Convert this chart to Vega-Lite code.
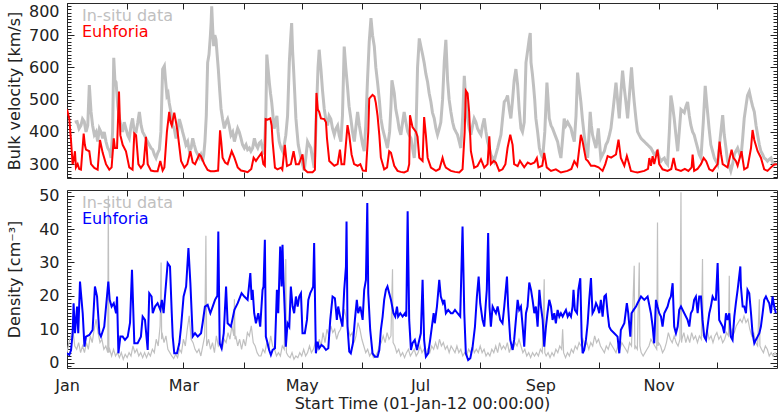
{
"$schema": "https://vega.github.io/schema/vega-lite/v6.json",
"background": "white",
"padding": {"left": 5, "top": 2, "right": 0, "bottom": 0},
"config": {
  "view": {"stroke": "#2a2a2a", "strokeWidth": 1},
  "axis": {"grid": false, "domain": false, "ticks": true, "labelFont": "DejaVu Sans", "labelFontSize": 16, "labelColor": "#222", "titleFont": "DejaVu Sans", "titleFontSize": 16, "titleFontWeight": "normal", "titleColor": "#222", "tickColor": "#222", "tickWidth": 1, "labelOverlap": false, "minExtent": 0},
  "concat": {"spacing": 8}
},
"datasets": {
"velModel": [{"t":0,"v":470},{"t":1.2,"v":440},{"t":2.1,"v":370},{"t":2.9,"v":300},{"t":3.5,"v":315},{"t":4.1,"v":340},{"t":4.6,"v":290},{"t":5.5,"v":300},{"t":6.3,"v":285},{"t":7.2,"v":283},{"t":8.6,"v":395},{"t":9.2,"v":360},{"t":9.8,"v":345},{"t":11.5,"v":340},{"t":12.4,"v":300},{"t":14.1,"v":288},{"t":15.8,"v":283},{"t":17,"v":375},{"t":18.4,"v":335},{"t":20.1,"v":300},{"t":21.8,"v":283},{"t":23,"v":290},{"t":24.1,"v":380},{"t":24.7,"v":350},{"t":25.8,"v":350},{"t":26.8,"v":525},{"t":27.5,"v":390},{"t":28.7,"v":360},{"t":30.4,"v":340},{"t":32.1,"v":290},{"t":33.8,"v":283},{"t":34.7,"v":395},{"t":35.6,"v":390},{"t":36.8,"v":300},{"t":38.1,"v":288},{"t":39.5,"v":300},{"t":40.7,"v":385},{"t":41.6,"v":300},{"t":43.3,"v":280},{"t":45,"v":278},{"t":46.7,"v":278},{"t":48.1,"v":310},{"t":49.3,"v":280},{"t":50.2,"v":290},{"t":51.5,"v":400},{"t":52.7,"v":462},{"t":53.4,"v":430},{"t":54,"v":420},{"t":55.3,"v":460},{"t":56.2,"v":430},{"t":57,"v":400},{"t":58.8,"v":310},{"t":60.5,"v":289},{"t":62,"v":300},{"t":63.6,"v":340},{"t":64.8,"v":305},{"t":66,"v":300},{"t":68.2,"v":330},{"t":69,"v":325},{"t":70.8,"v":300},{"t":72.5,"v":282},{"t":74,"v":278},{"t":75.9,"v":278},{"t":77.9,"v":280},{"t":78.9,"v":405},{"t":79.5,"v":370},{"t":80.2,"v":320},{"t":81.5,"v":305},{"t":82.8,"v":300},{"t":84.9,"v":340},{"t":86.3,"v":320},{"t":88,"v":290},{"t":89.7,"v":280},{"t":91.5,"v":278},{"t":93.1,"v":275},{"t":95,"v":285},{"t":96.2,"v":320},{"t":97.4,"v":310},{"t":98.5,"v":320},{"t":100.3,"v":335},{"t":101.2,"v":300},{"t":102,"v":295},{"t":102.4,"v":440},{"t":103.4,"v":438},{"t":104.8,"v":442},{"t":105.5,"v":420},{"t":106,"v":370},{"t":107.2,"v":289},{"t":108.5,"v":284},{"t":110.3,"v":289},{"t":111,"v":283},{"t":112.3,"v":360},{"t":113.4,"v":294},{"t":115.4,"v":300},{"t":116.8,"v":340},{"t":118,"v":300},{"t":119.5,"v":300},{"t":121.4,"v":330},{"t":122.3,"v":284},{"t":124,"v":275},{"t":126.6,"v":275},{"t":127.8,"v":282},{"t":128.6,"v":521},{"t":129.3,"v":470},{"t":130,"v":462},{"t":130.9,"v":442},{"t":132.6,"v":440},{"t":133.5,"v":430},{"t":134,"v":381},{"t":135.2,"v":310},{"t":137.8,"v":295},{"t":139.5,"v":300},{"t":140.7,"v":345},{"t":141.5,"v":300},{"t":142.9,"v":300},{"t":144.6,"v":421},{"t":145.5,"v":390},{"t":146.7,"v":330},{"t":148,"v":300},{"t":149.8,"v":295},{"t":151.2,"v":300},{"t":152.5,"v":280},{"t":154.1,"v":279},{"t":155.3,"v":400},{"t":155.8,"v":503},{"t":157.5,"v":515},{"t":158.5,"v":510},{"t":159.2,"v":490},{"t":160.1,"v":450},{"t":161,"v":390},{"t":161.8,"v":320},{"t":163.5,"v":284},{"t":165,"v":290},{"t":166.1,"v":340},{"t":167,"v":335},{"t":168.7,"v":295},{"t":170.4,"v":279},{"t":172,"v":276},{"t":173.8,"v":274},{"t":175.6,"v":279},{"t":176.4,"v":300},{"t":176.8,"v":452},{"t":178.1,"v":415},{"t":179.9,"v":400},{"t":180.7,"v":385},{"t":181.6,"v":320},{"t":183.3,"v":310},{"t":184.1,"v":446},{"t":185,"v":390},{"t":185.9,"v":320},{"t":187.6,"v":289},{"t":190.2,"v":279},{"t":192,"v":285},{"t":193.6,"v":320},{"t":194.5,"v":300},{"t":195.3,"v":289},{"t":197.9,"v":279},{"t":200,"v":276},{"t":202.2,"v":274},{"t":203.9,"v":284},{"t":205,"v":400},{"t":205.6,"v":528},{"t":206.5,"v":520},{"t":207.3,"v":462},{"t":208.2,"v":340},{"t":209.9,"v":289},{"t":211.6,"v":294},{"t":213.4,"v":315},{"t":215.1,"v":289},{"t":216.8,"v":300},{"t":217.7,"v":386},{"t":218.5,"v":300},{"t":220,"v":310},{"t":221.1,"v":305},{"t":222.8,"v":279},{"t":224.5,"v":284},{"t":226,"v":300},{"t":227.1,"v":350},{"t":228.5,"v":391},{"t":229.7,"v":360},{"t":230.5,"v":300},{"t":232.3,"v":294},{"t":233.5,"v":310},{"t":235.7,"v":290},{"t":237.5,"v":305},{"t":239.1,"v":300},{"t":241,"v":305},{"t":242.2,"v":319},{"t":243,"v":290},{"t":245,"v":295},{"t":246,"v":335},{"t":247.3,"v":290},{"t":249.5,"v":279},{"t":252,"v":284},{"t":254.6,"v":274},{"t":258,"v":279},{"t":260,"v":285},{"t":261.5,"v":309},{"t":263,"v":295},{"t":264.9,"v":391},{"t":265.8,"v":370},{"t":267.5,"v":315},{"t":268.5,"v":310},{"t":270.1,"v":295},{"t":272,"v":295},{"t":274,"v":290},{"t":276.1,"v":279},{"t":277.5,"v":300},{"t":278.7,"v":325},{"t":280.5,"v":320},{"t":283,"v":330},{"t":284.3,"v":376},{"t":285.5,"v":319},{"t":287.3,"v":295},{"t":288.6,"v":325},{"t":289.8,"v":300},{"t":290.7,"v":279},{"t":292.5,"v":276},{"t":294.1,"v":274},{"t":297.6,"v":279},{"t":299.5,"v":285},{"t":300.2,"v":319},{"t":301,"v":295},{"t":301.9,"v":325},{"t":302.7,"v":300},{"t":304.4,"v":345},{"t":305.3,"v":300},{"t":307,"v":284},{"t":309.6,"v":279},{"t":311.5,"v":285},{"t":312.7,"v":319},{"t":313.9,"v":284},{"t":316.5,"v":279},{"t":318.5,"v":285},{"t":320.3,"v":279},{"t":322,"v":290},{"t":322.5,"v":330},{"t":323.3,"v":279},{"t":325,"v":285},{"t":326.8,"v":300},{"t":328.2,"v":319},{"t":329.5,"v":309},{"t":331.1,"v":284},{"t":332.8,"v":279},{"t":335.4,"v":300},{"t":336.4,"v":370},{"t":337.2,"v":330},{"t":338,"v":300},{"t":340.5,"v":290},{"t":342.6,"v":345},{"t":343.5,"v":320},{"t":344.8,"v":310},{"t":345.7,"v":295},{"t":347.7,"v":340},{"t":349.1,"v":284},{"t":350.8,"v":290},{"t":352.6,"v":350},{"t":353.4,"v":406},{"t":354.3,"v":375},{"t":356,"v":340},{"t":357.7,"v":320},{"t":359.4,"v":284},{"t":361.1,"v":279},{"t":362.9,"v":290},{"t":364.6,"v":299},{"t":366,"v":300}],
"velObs": [{"t":4,"v":430},{"t":5.2,"v":432},{"t":6.2,"v":410},{"t":7.2,"v":420},{"t":8,"v":440},{"t":8.9,"v":432},{"t":9.8,"v":400},{"t":10.7,"v":420},{"t":11.5,"v":545},{"t":12.4,"v":462},{"t":13.2,"v":420},{"t":14.1,"v":391},{"t":15,"v":400},{"t":15.8,"v":370},{"t":16.7,"v":410},{"t":17.5,"v":400},{"t":18.4,"v":380},{"t":19.2,"v":400},{"t":20.1,"v":370},{"t":21,"v":350},{"t":22,"v":340},{"t":22.7,"v":319},{"t":23.5,"v":400},{"t":24.1,"v":630},{"t":24.7,"v":560},{"t":25.3,"v":554},{"t":26.2,"v":480},{"t":27,"v":442},{"t":27.8,"v":420},{"t":28.7,"v":400},{"t":29.5,"v":430},{"t":30.4,"v":410},{"t":31.3,"v":390},{"t":32.1,"v":380},{"t":33,"v":420},{"t":33.8,"v":442},{"t":34.7,"v":400},{"t":35.6,"v":400},{"t":36.5,"v":430},{"t":37.3,"v":462},{"t":38.2,"v":420},{"t":39,"v":400},{"t":39.9,"v":390},{"t":40.7,"v":380},{"t":41.5,"v":370},{"t":42.4,"v":360},{"t":43.3,"v":350},{"t":44.2,"v":345},{"t":45,"v":330},{"t":45.9,"v":319},{"t":46.8,"v":335},{"t":47.6,"v":345},{"t":48.4,"v":400},{"t":49.3,"v":595},{"t":50.2,"v":605},{"t":50.8,"v":560},{"t":51.5,"v":513},{"t":52.1,"v":520},{"t":52.7,"v":490},{"t":53.6,"v":460},{"t":54.5,"v":420},{"t":55.3,"v":410},{"t":56.2,"v":380},{"t":57,"v":400},{"t":57.9,"v":440},{"t":58.8,"v":420},{"t":59.6,"v":400},{"t":60.5,"v":380},{"t":61.3,"v":360},{"t":62.2,"v":370},{"t":63.1,"v":340},{"t":64,"v":350},{"t":64.8,"v":380},{"t":65.6,"v":360},{"t":66.5,"v":340},{"t":67.4,"v":330},{"t":68.2,"v":320},{"t":69,"v":330},{"t":69.9,"v":309},{"t":70.5,"v":330},{"t":71.1,"v":370},{"t":71.8,"v":450},{"t":72.5,"v":615},{"t":73.2,"v":640},{"t":73.9,"v":697},{"t":74.3,"v":740},{"t":74.6,"v":790},{"t":75.1,"v":720},{"t":75.6,"v":666},{"t":76.2,"v":700},{"t":76.8,"v":687},{"t":77.4,"v":640},{"t":78,"v":595},{"t":78.7,"v":530},{"t":79.4,"v":472},{"t":80.2,"v":440},{"t":81.1,"v":411},{"t":82,"v":430},{"t":82.8,"v":440},{"t":83.6,"v":420},{"t":84.5,"v":390},{"t":85.4,"v":400},{"t":86.3,"v":370},{"t":87.1,"v":390},{"t":88,"v":411},{"t":88.8,"v":400},{"t":89.7,"v":380},{"t":90.5,"v":360},{"t":91.4,"v":350},{"t":92.3,"v":360},{"t":93.1,"v":345},{"t":94,"v":350},{"t":94.8,"v":340},{"t":95.7,"v":350},{"t":96.6,"v":380},{"t":97.4,"v":360},{"t":98.3,"v":350},{"t":99.1,"v":365},{"t":100,"v":370},{"t":100.8,"v":350},{"t":101.7,"v":330},{"t":102.5,"v":450},{"t":103,"v":640},{"t":103.6,"v":600},{"t":104.3,"v":553},{"t":104.9,"v":520},{"t":105.5,"v":493},{"t":106.2,"v":450},{"t":106.8,"v":410},{"t":107.5,"v":430},{"t":108.2,"v":450},{"t":108.8,"v":400},{"t":109.4,"v":370},{"t":110.3,"v":350},{"t":111.1,"v":340},{"t":112,"v":360},{"t":112.8,"v":390},{"t":113.7,"v":450},{"t":114.6,"v":615},{"t":115.2,"v":680},{"t":115.8,"v":738},{"t":116.3,"v":650},{"t":116.8,"v":595},{"t":117.4,"v":520},{"t":118,"v":442},{"t":118.6,"v":400},{"t":119.2,"v":360},{"t":119.9,"v":340},{"t":120.6,"v":319},{"t":121.4,"v":300},{"t":122.3,"v":280},{"t":123.1,"v":320},{"t":124,"v":370},{"t":124.8,"v":360},{"t":125.7,"v":350},{"t":126.5,"v":320},{"t":127.4,"v":289},{"t":128.1,"v":380},{"t":128.8,"v":500},{"t":129.4,"v":600},{"t":130,"v":655},{"t":130.5,"v":620},{"t":130.9,"v":595},{"t":131.7,"v":530},{"t":132.6,"v":472},{"t":133.4,"v":440},{"t":134.3,"v":420},{"t":135.1,"v":450},{"t":136,"v":440},{"t":136.9,"v":410},{"t":137.8,"v":391},{"t":138.6,"v":410},{"t":139.5,"v":420},{"t":140.3,"v":390},{"t":141.2,"v":370},{"t":142,"v":450},{"t":142.9,"v":665},{"t":143.7,"v":600},{"t":144.6,"v":540},{"t":145.4,"v":480},{"t":146.3,"v":442},{"t":147.2,"v":400},{"t":148.1,"v":370},{"t":149,"v":420},{"t":149.8,"v":462},{"t":150.7,"v":420},{"t":151.5,"v":391},{"t":152.4,"v":360},{"t":153.2,"v":340},{"t":154,"v":420},{"t":154.9,"v":560},{"t":155.8,"v":680},{"t":156.7,"v":753},{"t":157.5,"v":700},{"t":158.4,"v":666},{"t":159.2,"v":600},{"t":160.1,"v":553},{"t":161,"v":500},{"t":161.8,"v":442},{"t":162.7,"v":410},{"t":163.5,"v":391},{"t":164.4,"v":370},{"t":165.2,"v":350},{"t":166.3,"v":400},{"t":167,"v":480},{"t":167.5,"v":560},{"t":168.1,"v":540},{"t":168.7,"v":520},{"t":169.5,"v":470},{"t":170.4,"v":442},{"t":171.2,"v":410},{"t":172.1,"v":391},{"t":173,"v":430},{"t":173.8,"v":462},{"t":174.7,"v":430},{"t":175.6,"v":401},{"t":176.4,"v":390},{"t":177.3,"v":380},{"t":178.1,"v":350},{"t":179,"v":319},{"t":179.9,"v":400},{"t":180.7,"v":600},{"t":181.6,"v":690},{"t":182.4,"v":666},{"t":183.3,"v":640},{"t":184.1,"v":615},{"t":185,"v":580},{"t":185.9,"v":554},{"t":186.7,"v":520},{"t":187.6,"v":493},{"t":188.4,"v":460},{"t":189.3,"v":442},{"t":190.2,"v":410},{"t":191,"v":391},{"t":191.9,"v":410},{"t":192.7,"v":430},{"t":193.6,"v":500},{"t":194.5,"v":620},{"t":195.3,"v":686},{"t":196.2,"v":560},{"t":197,"v":500},{"t":197.9,"v":462},{"t":198.8,"v":430},{"t":199.6,"v":411},{"t":200.5,"v":400},{"t":201.3,"v":391},{"t":202.2,"v":370},{"t":203,"v":350},{"t":204,"v":450},{"t":204.8,"v":574},{"t":205.6,"v":500},{"t":206.5,"v":442},{"t":207.3,"v":410},{"t":208.2,"v":391},{"t":209.1,"v":420},{"t":209.9,"v":442},{"t":210.8,"v":430},{"t":211.6,"v":411},{"t":212.5,"v":400},{"t":213.4,"v":391},{"t":214.2,"v":420},{"t":215.1,"v":442},{"t":216,"v":400},{"t":216.8,"v":370},{"t":217.7,"v":350},{"t":218.5,"v":330},{"t":219.4,"v":320},{"t":220.2,"v":309},{"t":221.1,"v":330},{"t":222,"v":350},{"t":222.8,"v":370},{"t":223.7,"v":391},{"t":224.5,"v":440},{"t":225.4,"v":493},{"t":226.3,"v":500},{"t":227.1,"v":513},{"t":228,"v":470},{"t":228.8,"v":442},{"t":229.7,"v":500},{"t":230.5,"v":560},{"t":231.4,"v":595},{"t":232.3,"v":545},{"t":233.1,"v":470},{"t":234,"v":411},{"t":234.8,"v":400},{"t":235.7,"v":430},{"t":236.6,"v":615},{"t":237.4,"v":650},{"t":238.3,"v":690},{"t":238.8,"v":707},{"t":239.2,"v":615},{"t":239.9,"v":580},{"t":240.5,"v":543},{"t":241.1,"v":500},{"t":241.7,"v":442},{"t":242.6,"v":400},{"t":243.5,"v":350},{"t":244.4,"v":330},{"t":245.2,"v":319},{"t":246.3,"v":400},{"t":247.4,"v":553},{"t":248,"v":500},{"t":248.6,"v":442},{"t":249.5,"v":420},{"t":250.3,"v":411},{"t":251.6,"v":390},{"t":252.9,"v":370},{"t":253.8,"v":340},{"t":254.6,"v":319},{"t":255.5,"v":380},{"t":256.3,"v":441},{"t":257.2,"v":420},{"t":258.1,"v":430},{"t":259,"v":420},{"t":259.8,"v":411},{"t":260.6,"v":390},{"t":261.5,"v":370},{"t":262.4,"v":450},{"t":263.2,"v":584},{"t":264,"v":540},{"t":264.9,"v":493},{"t":265.7,"v":440},{"t":266.6,"v":391},{"t":267.5,"v":350},{"t":268.4,"v":319},{"t":269,"v":380},{"t":269.7,"v":462},{"t":270.3,"v":420},{"t":270.9,"v":391},{"t":271.8,"v":370},{"t":272.7,"v":350},{"t":273.3,"v":380},{"t":273.9,"v":411},{"t":274.6,"v":360},{"t":275.2,"v":319},{"t":276.1,"v":330},{"t":277,"v":340},{"t":277.8,"v":360},{"t":278.7,"v":370},{"t":279.6,"v":390},{"t":280.4,"v":411},{"t":281.7,"v":480},{"t":283,"v":553},{"t":283.8,"v":500},{"t":284.7,"v":442},{"t":285.5,"v":520},{"t":286.4,"v":590},{"t":287.2,"v":540},{"t":288.1,"v":493},{"t":289,"v":442},{"t":290,"v":520},{"t":291,"v":600},{"t":291.7,"v":540},{"t":292.4,"v":493},{"t":293.3,"v":440},{"t":294.1,"v":401},{"t":295,"v":390},{"t":295.9,"v":380},{"t":296.7,"v":375},{"t":297.6,"v":370},{"t":298.4,"v":365},{"t":299.3,"v":360},{"t":300.1,"v":355},{"t":301,"v":350},{"t":301.9,"v":340},{"t":302.7,"v":330},{"t":303.6,"v":335},{"t":304.4,"v":340},{"t":305.3,"v":320},{"t":306.2,"v":309},{"t":307,"v":315},{"t":307.9,"v":319},{"t":308.8,"v":305},{"t":309.6,"v":299},{"t":310.5,"v":400},{"t":311.3,"v":513},{"t":312.2,"v":480},{"t":313,"v":442},{"t":313.9,"v":390},{"t":314.8,"v":340},{"t":315.6,"v":400},{"t":316.5,"v":470},{"t":317.4,"v":465},{"t":318.2,"v":460},{"t":319.1,"v":480},{"t":319.9,"v":493},{"t":320.8,"v":450},{"t":321.6,"v":421},{"t":322.5,"v":400},{"t":323.3,"v":391},{"t":324.2,"v":370},{"t":325.1,"v":350},{"t":325.9,"v":330},{"t":326.8,"v":319},{"t":328,"v":430},{"t":329,"v":543},{"t":329.6,"v":500},{"t":330.2,"v":462},{"t":331,"v":410},{"t":331.9,"v":360},{"t":332.8,"v":340},{"t":333.7,"v":319},{"t":334.5,"v":310},{"t":335.4,"v":299},{"t":336.7,"v":380},{"t":338,"v":452},{"t":338.8,"v":391},{"t":339.7,"v":350},{"t":340.5,"v":309},{"t":341.4,"v":295},{"t":342.2,"v":279},{"t":343.1,"v":300},{"t":344,"v":330},{"t":344.8,"v":340},{"t":345.7,"v":350},{"t":346.5,"v":335},{"t":347.4,"v":319},{"t":348.3,"v":380},{"t":349.1,"v":442},{"t":350,"v":480},{"t":350.8,"v":513},{"t":351.7,"v":525},{"t":352.6,"v":500},{"t":353.4,"v":480},{"t":354.3,"v":462},{"t":355.2,"v":420},{"t":356,"v":391},{"t":356.9,"v":360},{"t":357.7,"v":340},{"t":358.6,"v":330},{"t":359.4,"v":319},{"t":360.3,"v":315},{"t":361.1,"v":309},{"t":362,"v":315},{"t":362.9,"v":319},{"t":363.7,"v":305},{"t":364.6,"v":299},{"t":365.5,"v":305}],
"denModel": [{"t":0,"v":2.8},{"t":1.2,"v":2.3},{"t":2.1,"v":3.8},{"t":2.9,"v":8.8},{"t":3.4,"v":17.8},{"t":4.1,"v":8.8},{"t":5.2,"v":16.8},{"t":5.8,"v":8.8},{"t":6.7,"v":24.3},{"t":7.2,"v":20.8},{"t":8.1,"v":14.8},{"t":9,"v":4.8},{"t":9.8,"v":7.8},{"t":11.5,"v":8.3},{"t":13.2,"v":9.8},{"t":14.4,"v":22.8},{"t":15.5,"v":19.8},{"t":15.8,"v":16.8},{"t":16.7,"v":8.8},{"t":17.5,"v":7.8},{"t":19.2,"v":10.8},{"t":20.6,"v":19.8},{"t":21.3,"v":24.3},{"t":22,"v":18.8},{"t":23,"v":16.8},{"t":24.1,"v":17.8},{"t":25.3,"v":14.8},{"t":25.8,"v":19.8},{"t":26.5,"v":2.8},{"t":27.5,"v":7.8},{"t":28.7,"v":7.8},{"t":29.9,"v":6.8},{"t":31.3,"v":7.8},{"t":32.5,"v":12},{"t":33.5,"v":27.8},{"t":34.7,"v":5.8},{"t":36.4,"v":5.8},{"t":38.1,"v":7.8},{"t":39,"v":13.8},{"t":40.2,"v":12.8},{"t":41.6,"v":3.8},{"t":42.4,"v":20.8},{"t":43.6,"v":19.8},{"t":44.2,"v":14.8},{"t":45.4,"v":16.8},{"t":46.7,"v":17.8},{"t":48.1,"v":15.8},{"t":48.9,"v":18.8},{"t":49.8,"v":14.8},{"t":50.5,"v":19.8},{"t":51.9,"v":29.8},{"t":53.1,"v":28.8},{"t":54,"v":14.8},{"t":54.5,"v":7.8},{"t":55.3,"v":2.8},{"t":56.7,"v":2.8},{"t":57.9,"v":5.8},{"t":58.8,"v":10.8},{"t":60.1,"v":19.8},{"t":61.4,"v":22.8},{"t":62.6,"v":34.3},{"t":63.6,"v":23.8},{"t":64.8,"v":7.8},{"t":66,"v":8.8},{"t":67.4,"v":7.8},{"t":69.1,"v":8.8},{"t":69.9,"v":11.8},{"t":71.1,"v":16.8},{"t":72.5,"v":17.3},{"t":73.9,"v":14.8},{"t":75.1,"v":16.8},{"t":76.3,"v":18.8},{"t":77.5,"v":20},{"t":78,"v":39.3},{"t":78.7,"v":5.8},{"t":79.7,"v":4.3},{"t":80.8,"v":8.8},{"t":82,"v":22.8},{"t":82.8,"v":11.8},{"t":84.5,"v":10.8},{"t":86.3,"v":15.8},{"t":88,"v":17.8},{"t":90,"v":20.8},{"t":91.4,"v":19.8},{"t":93.1,"v":18.8},{"t":94.5,"v":26.8},{"t":95.2,"v":18.8},{"t":95.7,"v":21.8},{"t":96.5,"v":14.8},{"t":97.4,"v":11.8},{"t":98.6,"v":14.8},{"t":99.6,"v":10.8},{"t":100.8,"v":21.8},{"t":101.3,"v":22.8},{"t":102,"v":36.8},{"t":102.5,"v":7.8},{"t":103.4,"v":5.8},{"t":104.2,"v":3.8},{"t":105.1,"v":2.3},{"t":106,"v":3.8},{"t":107.2,"v":4.3},{"t":108.2,"v":21.8},{"t":108.9,"v":14.8},{"t":109.9,"v":34.8},{"t":110.6,"v":22.8},{"t":111.1,"v":35.3},{"t":111.6,"v":24.8},{"t":112.3,"v":14.8},{"t":112.8,"v":4.8},{"t":113.7,"v":11.8},{"t":114.6,"v":10.8},{"t":115.4,"v":22.8},{"t":116.3,"v":16.8},{"t":117.1,"v":14.8},{"t":118,"v":19.8},{"t":118.9,"v":16.8},{"t":119.7,"v":19.8},{"t":120.6,"v":20.8},{"t":121.4,"v":8.8},{"t":122.6,"v":8.8},{"t":123.7,"v":12.8},{"t":124.4,"v":18.8},{"t":125.4,"v":20.8},{"t":126.2,"v":21.8},{"t":126.9,"v":22.8},{"t":127.4,"v":35.8},{"t":128,"v":12.8},{"t":128.3,"v":2.8},{"t":129.2,"v":6.3},{"t":130,"v":4.3},{"t":131.2,"v":5.3},{"t":132.3,"v":4.8},{"t":133.5,"v":3.8},{"t":134.7,"v":4.3},{"t":135.7,"v":12.8},{"t":136.9,"v":19.8},{"t":138.1,"v":19.3},{"t":139.1,"v":12.8},{"t":139.8,"v":16.8},{"t":140.8,"v":13.8},{"t":142,"v":10.8},{"t":142.9,"v":21.8},{"t":143.8,"v":28.8},{"t":144.1,"v":42.3},{"t":144.6,"v":10.8},{"t":145.5,"v":3.3},{"t":146.3,"v":2.8},{"t":147.4,"v":5.8},{"t":148.4,"v":12.8},{"t":149.4,"v":18.8},{"t":150.1,"v":14.8},{"t":151.2,"v":16.8},{"t":152.4,"v":12.8},{"t":153.2,"v":21.8},{"t":154.1,"v":24.8},{"t":154.8,"v":47.8},{"t":155.3,"v":20.8},{"t":156.3,"v":9.8},{"t":157.5,"v":2.8},{"t":158.7,"v":1.8},{"t":160.1,"v":1.8},{"t":161,"v":3.8},{"t":161.8,"v":9.8},{"t":162.7,"v":13.8},{"t":163.5,"v":18.8},{"t":164.4,"v":21.8},{"t":165.2,"v":22.8},{"t":166.1,"v":20.8},{"t":167,"v":18.8},{"t":168.3,"v":14.8},{"t":169.2,"v":13.8},{"t":170.1,"v":16.8},{"t":170.7,"v":13.8},{"t":171.8,"v":14.8},{"t":173,"v":13.8},{"t":174.2,"v":14.8},{"t":174.9,"v":13.8},{"t":175.6,"v":45.3},{"t":176.4,"v":12.8},{"t":177.3,"v":3.8},{"t":178.1,"v":5.8},{"t":179.3,"v":6.8},{"t":180.4,"v":3.8},{"t":181.6,"v":6.8},{"t":182.4,"v":8.8},{"t":183.3,"v":24.8},{"t":184.1,"v":6.8},{"t":185,"v":1.8},{"t":186.2,"v":2.8},{"t":187.2,"v":6.8},{"t":188.1,"v":10.8},{"t":189,"v":14.8},{"t":189.6,"v":11.8},{"t":190.7,"v":16.8},{"t":191.9,"v":24.8},{"t":192.7,"v":19.8},{"t":193.8,"v":17.8},{"t":194.5,"v":18.8},{"t":195.3,"v":14.8},{"t":196.5,"v":15.8},{"t":197.9,"v":14.8},{"t":198.8,"v":14.8},{"t":200,"v":15.8},{"t":201.3,"v":14.8},{"t":202.7,"v":13.8},{"t":203.9,"v":40.8},{"t":204.8,"v":14.8},{"t":205.6,"v":2.8},{"t":206.8,"v":0.8},{"t":207.9,"v":1.3},{"t":209.1,"v":4.8},{"t":210.3,"v":10.8},{"t":211.3,"v":19.8},{"t":212.2,"v":25.8},{"t":213,"v":17.8},{"t":214.2,"v":12.8},{"t":215.1,"v":10.8},{"t":215.9,"v":17.8},{"t":216.4,"v":21.8},{"t":217.1,"v":38.8},{"t":217.8,"v":16.8},{"t":218.5,"v":10.8},{"t":219.4,"v":16.8},{"t":220.2,"v":15.8},{"t":221.1,"v":14.8},{"t":222,"v":16.8},{"t":223.3,"v":12.8},{"t":224.5,"v":11.8},{"t":225.4,"v":16.8},{"t":226.8,"v":25.8},{"t":227.4,"v":16.8},{"t":228.5,"v":6.8},{"t":229.7,"v":3.8},{"t":230.5,"v":6.8},{"t":232.3,"v":18.8},{"t":233.1,"v":15.8},{"t":234,"v":16.8},{"t":234.9,"v":10.8},{"t":235.7,"v":4.8},{"t":236.6,"v":14.8},{"t":237.4,"v":16.8},{"t":238.3,"v":24},{"t":239.2,"v":21.8},{"t":240,"v":18.8},{"t":240.9,"v":14.8},{"t":241.7,"v":16.8},{"t":242.6,"v":10.8},{"t":243.5,"v":21.8},{"t":244.3,"v":16.8},{"t":245.2,"v":12.8},{"t":246,"v":4.8},{"t":246.9,"v":10.8},{"t":247.7,"v":14.8},{"t":248.6,"v":18.8},{"t":249.5,"v":16.8},{"t":250.3,"v":12.8},{"t":251.2,"v":14.8},{"t":252,"v":11.8},{"t":252.9,"v":15.8},{"t":253.8,"v":13.8},{"t":254.6,"v":14.8},{"t":255.5,"v":13.8},{"t":256.3,"v":14.8},{"t":257.2,"v":15.8},{"t":258.1,"v":13.8},{"t":258.9,"v":14.8},{"t":259.8,"v":13.8},{"t":260.6,"v":16.8},{"t":261.1,"v":21.8},{"t":261.8,"v":15.8},{"t":262.9,"v":14.8},{"t":263.6,"v":21.8},{"t":264.6,"v":25.3},{"t":265.3,"v":7.8},{"t":265.8,"v":2.8},{"t":266.6,"v":3.8},{"t":267.5,"v":6.8},{"t":268.4,"v":11.8},{"t":269.2,"v":18.8},{"t":270.1,"v":25.3},{"t":270.9,"v":14.8},{"t":271.8,"v":15.8},{"t":272.7,"v":17.8},{"t":273.5,"v":16.8},{"t":274.4,"v":14.8},{"t":275.2,"v":18.8},{"t":276.1,"v":13.8},{"t":277,"v":19.8},{"t":277.8,"v":20.3},{"t":278.7,"v":14.8},{"t":279.5,"v":10.8},{"t":280.4,"v":9.8},{"t":282.1,"v":8.8},{"t":283.8,"v":7.8},{"t":284.7,"v":2.8},{"t":285.5,"v":9.8},{"t":287.3,"v":11.8},{"t":288.6,"v":17.8},{"t":289.3,"v":14.8},{"t":290.4,"v":7.8},{"t":291,"v":14.8},{"t":292.1,"v":15.8},{"t":293.3,"v":16.8},{"t":294.1,"v":17.8},{"t":295.9,"v":19.8},{"t":297.6,"v":18.8},{"t":299.3,"v":19.8},{"t":301,"v":14.8},{"t":301.9,"v":10.8},{"t":302.7,"v":5.8},{"t":303.6,"v":18.8},{"t":304.4,"v":16.8},{"t":305.3,"v":14.8},{"t":306.2,"v":13.8},{"t":307,"v":10.8},{"t":307.9,"v":14.8},{"t":309.6,"v":16.8},{"t":310.5,"v":18.8},{"t":311.3,"v":19.8},{"t":312.2,"v":23.8},{"t":313,"v":10.8},{"t":313.9,"v":8.8},{"t":314.8,"v":10.8},{"t":315.6,"v":15.8},{"t":316.5,"v":16.8},{"t":318.2,"v":14.8},{"t":319.9,"v":12.8},{"t":320.8,"v":10.8},{"t":321.6,"v":14.8},{"t":322.5,"v":15.8},{"t":323.3,"v":18.8},{"t":324.2,"v":19.8},{"t":325.1,"v":14.8},{"t":325.9,"v":19.8},{"t":326.8,"v":19.8},{"t":327.6,"v":12.8},{"t":328.5,"v":7.8},{"t":329.4,"v":6.8},{"t":330.2,"v":10.8},{"t":331.1,"v":14.8},{"t":331.9,"v":16.8},{"t":332.8,"v":19.8},{"t":333.7,"v":18.8},{"t":334.5,"v":18.8},{"t":335.4,"v":29.8},{"t":336.2,"v":12.8},{"t":337.1,"v":11.8},{"t":338,"v":10.8},{"t":338.8,"v":8.8},{"t":339.7,"v":14.8},{"t":340.5,"v":12.8},{"t":341.4,"v":14.8},{"t":342.2,"v":7.8},{"t":343.1,"v":6.8},{"t":344,"v":13.8},{"t":344.8,"v":17.8},{"t":345.7,"v":21.8},{"t":347.1,"v":28.8},{"t":347.4,"v":22.8},{"t":348.3,"v":16.8},{"t":349.1,"v":16.8},{"t":350,"v":14.8},{"t":350.8,"v":21.8},{"t":351.7,"v":20.8},{"t":352.6,"v":14.8},{"t":353.4,"v":8.8},{"t":354.3,"v":5.8},{"t":355.1,"v":6.8},{"t":356,"v":7.8},{"t":356.9,"v":8.8},{"t":357.7,"v":10.8},{"t":358.6,"v":14.8},{"t":359.4,"v":18.8},{"t":360.3,"v":19.8},{"t":361.1,"v":18.8},{"t":362,"v":17.8},{"t":362.9,"v":14.8},{"t":363.7,"v":19.8},{"t":364.6,"v":16.8},{"t":365.4,"v":14.8}],
"denObs": [{"t":0,"v":3},{"t":1,"v":6},{"t":2,"v":8},{"t":3,"v":10},{"t":4,"v":5},{"t":5,"v":4},{"t":6,"v":6},{"t":7,"v":3},{"t":8,"v":5},{"t":9,"v":3},{"t":10,"v":6},{"t":11,"v":4},{"t":12,"v":8},{"t":13,"v":6},{"t":14,"v":10},{"t":15,"v":13},{"t":16,"v":9},{"t":17,"v":6},{"t":18,"v":7},{"t":19,"v":4},{"t":20,"v":5},{"t":21,"v":3},{"t":21.3,"v":50},{"t":21.6,"v":3},{"t":22,"v":4},{"t":23,"v":2},{"t":24,"v":4},{"t":25,"v":2},{"t":26,"v":3},{"t":27,"v":1.5},{"t":28,"v":3},{"t":29,"v":1},{"t":30,"v":2.5},{"t":31,"v":1.5},{"t":32,"v":3},{"t":33,"v":2},{"t":34,"v":5},{"t":35,"v":3},{"t":36,"v":4},{"t":37,"v":2},{"t":38,"v":3},{"t":39,"v":1.5},{"t":40,"v":3},{"t":41,"v":1.5},{"t":42,"v":3},{"t":43,"v":2},{"t":44,"v":4},{"t":45,"v":3},{"t":46,"v":7},{"t":47,"v":5},{"t":48,"v":11},{"t":48.5,"v":30},{"t":48.8,"v":7},{"t":49,"v":9},{"t":50,"v":6},{"t":51,"v":8},{"t":52,"v":4},{"t":53,"v":3},{"t":54,"v":2},{"t":55,"v":1.2},{"t":56,"v":2.5},{"t":57,"v":1.5},{"t":58,"v":4},{"t":59,"v":3},{"t":60,"v":7},{"t":61,"v":5},{"t":62,"v":10},{"t":63,"v":14},{"t":64,"v":7},{"t":65,"v":6},{"t":66,"v":4},{"t":67,"v":3},{"t":68,"v":4},{"t":69,"v":2},{"t":70,"v":5},{"t":71,"v":8},{"t":71.6,"v":38},{"t":72,"v":5},{"t":73,"v":7},{"t":74,"v":4},{"t":75,"v":6},{"t":76,"v":3},{"t":77,"v":8},{"t":78,"v":5},{"t":79,"v":6},{"t":80,"v":4},{"t":81,"v":7},{"t":82,"v":6},{"t":83,"v":9},{"t":84,"v":7},{"t":85,"v":11},{"t":86,"v":8},{"t":86.3,"v":19},{"t":86.6,"v":7},{"t":87,"v":8},{"t":88,"v":5},{"t":89,"v":7},{"t":90,"v":4},{"t":91,"v":7},{"t":92,"v":5},{"t":93,"v":9},{"t":94,"v":8},{"t":95,"v":11},{"t":96,"v":6},{"t":97,"v":5},{"t":98,"v":3},{"t":99,"v":2},{"t":100,"v":2},{"t":101,"v":4},{"t":102,"v":3},{"t":103,"v":6},{"t":104,"v":4},{"t":105,"v":8},{"t":106,"v":5},{"t":107,"v":4},{"t":108,"v":2},{"t":109,"v":3},{"t":110,"v":2},{"t":111,"v":5},{"t":112,"v":4},{"t":112.8,"v":31},{"t":113.1,"v":3},{"t":114,"v":2},{"t":115,"v":1.5},{"t":116,"v":3},{"t":117,"v":1},{"t":118,"v":2},{"t":119,"v":1.5},{"t":120,"v":3},{"t":121,"v":2},{"t":122,"v":4},{"t":123,"v":2},{"t":124,"v":3},{"t":125,"v":5},{"t":126,"v":3},{"t":127,"v":4},{"t":128,"v":6},{"t":129,"v":4},{"t":130,"v":7},{"t":131,"v":5},{"t":132,"v":9},{"t":133,"v":6},{"t":134,"v":10},{"t":135,"v":8},{"t":136,"v":11},{"t":137,"v":9},{"t":138,"v":10},{"t":139,"v":7},{"t":140,"v":9},{"t":141,"v":10},{"t":142,"v":12},{"t":143,"v":16},{"t":144,"v":13},{"t":145,"v":10},{"t":146,"v":8},{"t":147,"v":9},{"t":148,"v":6},{"t":149,"v":8},{"t":150,"v":12},{"t":151,"v":10},{"t":152,"v":7},{"t":153,"v":5},{"t":154,"v":3},{"t":155,"v":4},{"t":156,"v":2},{"t":157,"v":3},{"t":158,"v":1.5},{"t":159,"v":2},{"t":160,"v":3},{"t":161,"v":5},{"t":162,"v":6},{"t":163,"v":8},{"t":164,"v":6},{"t":165,"v":9},{"t":166,"v":7},{"t":167,"v":8},{"t":167.8,"v":28},{"t":168.1,"v":6},{"t":169,"v":5},{"t":170,"v":3},{"t":171,"v":4},{"t":172,"v":2},{"t":173,"v":3},{"t":174,"v":1.5},{"t":175,"v":3},{"t":176,"v":4},{"t":177,"v":2},{"t":178,"v":3},{"t":179,"v":4},{"t":180,"v":2},{"t":181,"v":3},{"t":182,"v":5},{"t":183,"v":3},{"t":184,"v":4},{"t":185,"v":2},{"t":186,"v":4},{"t":187,"v":3},{"t":188,"v":5},{"t":189,"v":4},{"t":190,"v":6},{"t":191,"v":4},{"t":192,"v":7},{"t":193,"v":5},{"t":194,"v":6},{"t":195,"v":4},{"t":196,"v":5},{"t":197,"v":3},{"t":198,"v":5},{"t":199,"v":4},{"t":200,"v":3},{"t":201,"v":5},{"t":202,"v":3},{"t":203,"v":4},{"t":204,"v":2},{"t":205,"v":3},{"t":206,"v":2},{"t":207,"v":4},{"t":208,"v":3},{"t":209,"v":5},{"t":210,"v":3},{"t":211,"v":4},{"t":212,"v":3},{"t":213,"v":5},{"t":214,"v":3},{"t":215,"v":4},{"t":216,"v":2},{"t":217,"v":3},{"t":218,"v":2},{"t":219,"v":4},{"t":220,"v":3},{"t":221,"v":5},{"t":222,"v":3},{"t":223,"v":6},{"t":224,"v":4},{"t":225,"v":5},{"t":226,"v":4},{"t":227,"v":6},{"t":228,"v":3},{"t":229,"v":5},{"t":230,"v":4},{"t":231,"v":6},{"t":232,"v":5},{"t":233,"v":7},{"t":234,"v":5},{"t":235,"v":3},{"t":236,"v":4},{"t":237,"v":2},{"t":238,"v":3},{"t":239,"v":1.5},{"t":240,"v":3},{"t":241,"v":2},{"t":242,"v":3},{"t":243,"v":2},{"t":244,"v":4},{"t":245,"v":3},{"t":246,"v":25},{"t":246.3,"v":3},{"t":247,"v":2},{"t":248,"v":3},{"t":249,"v":1.5},{"t":250,"v":3},{"t":251,"v":2},{"t":252,"v":4},{"t":253,"v":3},{"t":254,"v":5},{"t":255,"v":4},{"t":255.5,"v":10},{"t":256,"v":3},{"t":257,"v":1.5},{"t":258,"v":3},{"t":259,"v":2},{"t":260,"v":4},{"t":261,"v":3},{"t":262,"v":5},{"t":263,"v":4},{"t":264,"v":6},{"t":265,"v":5},{"t":266,"v":7},{"t":267,"v":5},{"t":268,"v":6},{"t":269,"v":4},{"t":270,"v":6},{"t":271,"v":5},{"t":272,"v":8},{"t":273,"v":6},{"t":274,"v":7},{"t":275,"v":5},{"t":276,"v":4},{"t":277,"v":3},{"t":278,"v":5},{"t":279,"v":4},{"t":280,"v":6},{"t":281,"v":5},{"t":282,"v":4},{"t":283,"v":3},{"t":284,"v":5},{"t":285,"v":4},{"t":286,"v":6},{"t":287,"v":5},{"t":288,"v":4},{"t":289,"v":3},{"t":290,"v":6},{"t":291,"v":5},{"t":292.4,"v":29},{"t":292.7,"v":4},{"t":293,"v":5},{"t":294,"v":4},{"t":295,"v":30},{"t":295.3,"v":5},{"t":296,"v":3},{"t":297,"v":2},{"t":298,"v":3},{"t":299,"v":4},{"t":300,"v":5},{"t":301,"v":7},{"t":302,"v":6},{"t":303,"v":5},{"t":304,"v":4},{"t":304.4,"v":42},{"t":304.7,"v":5},{"t":305,"v":6},{"t":306,"v":5},{"t":307,"v":3},{"t":308,"v":4},{"t":309,"v":6},{"t":310,"v":9},{"t":311,"v":7},{"t":312,"v":6},{"t":313,"v":8},{"t":314,"v":6},{"t":315,"v":5},{"t":316,"v":7},{"t":316.5,"v":51},{"t":316.8,"v":6},{"t":317,"v":7},{"t":318,"v":9},{"t":319,"v":6},{"t":320,"v":8},{"t":321,"v":6},{"t":322,"v":9},{"t":323,"v":7},{"t":324,"v":8},{"t":325,"v":6},{"t":326,"v":8},{"t":327,"v":7},{"t":327.6,"v":31},{"t":327.9,"v":8},{"t":328,"v":9},{"t":329,"v":7},{"t":330,"v":10},{"t":331,"v":7},{"t":332,"v":8},{"t":333,"v":6},{"t":334,"v":8},{"t":335,"v":9},{"t":336,"v":7},{"t":337,"v":8},{"t":338,"v":6},{"t":339,"v":7},{"t":340,"v":9},{"t":341,"v":8},{"t":341.4,"v":26},{"t":341.7,"v":9},{"t":342,"v":8},{"t":343,"v":10},{"t":344,"v":9},{"t":345,"v":11},{"t":346,"v":12},{"t":347,"v":13},{"t":348,"v":12},{"t":349,"v":14},{"t":350,"v":12},{"t":351,"v":13},{"t":352,"v":10},{"t":353,"v":8},{"t":354,"v":9},{"t":355,"v":6},{"t":356,"v":5},{"t":356.9,"v":19},{"t":357.2,"v":5},{"t":358,"v":4},{"t":359,"v":3},{"t":360,"v":5},{"t":361,"v":4},{"t":362,"v":2},{"t":363,"v":3},{"t":364,"v":2},{"t":365,"v":3},{"t":366,"v":2}]
},
"vconcat": [
 {
  "width": 710, "height": 175,
  "layer": [
   {
    "data": {"name": "velObs"},
    "mark": {"type": "line", "strokeWidth": 3, "clip": true},
    "encoding": {
     "x": {"field": "t", "type": "quantitative", "scale": {"domain": [0, 366], "nice": false, "zero": false},
       "axis": {"orient": "bottom", "values": [0,31,60,91,121,152,182,213,244,274,305,335], "labels": false, "title": null, "tickSize": -6}},
     "y": {"field": "v", "type": "quantitative", "scale": {"domain": [257, 800], "nice": false, "zero": false},
       "axis": {"orient": "left", "title": "Bulk velocity [km/s]", "titleX": -45, "values": [260,270,280,290,300,310,320,330,340,350,360,370,380,390,400,410,420,430,440,450,460,470,480,490,500,510,520,530,540,550,560,570,580,590,600,610,620,630,640,650,660,670,680,690,700,710,720,730,740,750,760,770,780,790,800],
         "labelExpr": "datum.value % 100 === 0 ? datum.label : ''", "labelFlush": true,
         "labelFontSize": {"condition": {"test": "datum.value % 100 === 0", "value": 16}, "value": 0},
         "tickSize": {"condition": {"test": "datum.value % 100 === 0", "value": -7}, "value": -4}, "labelPadding": 15}},
     "color": {"datum": "In-situ data", "type": "nominal", "scale": {"domain": ["In-situ data", "Euhforia"], "range": ["#c0c0c0", "#ff0000"]},
       "legend": {"orient": "none", "legendX": -1, "legendY": 5, "title": null, "symbolSize": 0, "symbolStrokeWidth": 0, "symbolOpacity": 0, "labelFont": "DejaVu Sans", "labelFontSize": 16, "labelOffset": 0, "rowPadding": 0, "labelLimit": 300,
         "encode": {"labels": {"update": {"fill": {"signal": "datum.value === 'Euhforia' ? '#ff0000' : '#c0c0c0'"}}}}}}
    }
   },
   {
    "data": {"name": "velModel"},
    "mark": {"type": "line", "strokeWidth": 2, "clip": true},
    "encoding": {
     "x": {"field": "t", "type": "quantitative", "scale": {"domain": [0, 366], "nice": false, "zero": false},
       "axis": {"orient": "top", "values": [0,31,60,91,121,152,182,213,244,274,305,335], "labels": false, "title": null, "tickSize": -6}},
     "y": {"field": "v", "type": "quantitative", "scale": {"domain": [257, 800], "nice": false, "zero": false},
       "axis": {"orient": "right", "title": null, "labels": false, "values": [260,270,280,290,300,310,320,330,340,350,360,370,380,390,400,410,420,430,440,450,460,470,480,490,500,510,520,530,540,550,560,570,580,590,600,610,620,630,640,650,660,670,680,690,700,710,720,730,740,750,760,770,780,790,800],
         "tickSize": {"condition": {"test": "datum.value % 100 === 0", "value": -7}, "value": -4}}},
     "color": {"datum": "Euhforia", "type": "nominal"}
    }
   }
  ],
  "resolve": {"axis": {"x": "independent", "y": "independent"}}
 },
 {
  "width": 710, "height": 178,
  "layer": [
   {
    "data": {"name": "denObs"},
    "mark": {"type": "line", "strokeWidth": 1.2, "clip": true},
    "encoding": {
     "x": {"field": "t", "type": "quantitative", "scale": {"domain": [0, 366], "nice": false, "zero": false},
       "axis": {"orient": "bottom", "values": [0,31,60,91,121,152,182,213,244,274,305,335], "labelFlush": false, "tickSize": -6, "labelPadding": 15, "titlePadding": 2,
         "labelExpr": "datum.value == 0 ? 'Jan' : datum.value == 60 ? 'Mar' : datum.value == 121 ? 'May' : datum.value == 182 ? 'Jul' : datum.value == 244 ? 'Sep' : datum.value == 305 ? 'Nov' : ''",
         "title": "Start Time (01-Jan-12 00:00:00)"}},
     "y": {"field": "v", "type": "quantitative", "scale": {"domain": [-1.6, 51.7], "nice": false, "zero": false},
       "axis": {"orient": "left", "title": "Density [cm⁻³]", "titleX": -45, "values": [-1,0,1,2,3,4,5,6,7,8,9,10,11,12,13,14,15,16,17,18,19,20,21,22,23,24,25,26,27,28,29,30,31,32,33,34,35,36,37,38,39,40,41,42,43,44,45,46,47,48,49,50,51],
         "labelExpr": "datum.value % 10 === 0 ? datum.label : ''",
         "labelFontSize": {"condition": {"test": "datum.value % 10 === 0", "value": 16}, "value": 0},
         "tickSize": {"condition": {"test": "datum.value % 10 === 0", "value": -7}, "value": -4}, "labelPadding": 15}},
     "color": {"datum": "In-situ data", "type": "nominal", "scale": {"domain": ["In-situ data", "Euhforia"], "range": ["#c0c0c0", "#0000ff"]},
       "legend": {"orient": "none", "legendX": -1, "legendY": 5, "title": null, "symbolSize": 0, "symbolStrokeWidth": 0, "symbolOpacity": 0, "labelFont": "DejaVu Sans", "labelFontSize": 16, "labelOffset": 0, "rowPadding": 0, "labelLimit": 300,
         "encode": {"labels": {"update": {"fill": {"signal": "datum.value === 'Euhforia' ? '#0000ff' : '#c0c0c0'"}}}}}}
    }
   },
   {
    "data": {"name": "denModel"},
    "mark": {"type": "line", "strokeWidth": 2, "clip": true},
    "encoding": {
     "x": {"field": "t", "type": "quantitative", "scale": {"domain": [0, 366], "nice": false, "zero": false},
       "axis": {"orient": "top", "values": [0,31,60,91,121,152,182,213,244,274,305,335], "labels": false, "title": null, "tickSize": -6}},
     "y": {"field": "v", "type": "quantitative", "scale": {"domain": [-1.6, 51.7], "nice": false, "zero": false},
       "axis": {"orient": "right", "title": null, "labels": false, "values": [-1,0,1,2,3,4,5,6,7,8,9,10,11,12,13,14,15,16,17,18,19,20,21,22,23,24,25,26,27,28,29,30,31,32,33,34,35,36,37,38,39,40,41,42,43,44,45,46,47,48,49,50,51],
         "tickSize": {"condition": {"test": "datum.value % 10 === 0", "value": -7}, "value": -4}}},
     "color": {"datum": "Euhforia", "type": "nominal"}
    }
   }
  ],
  "resolve": {"axis": {"x": "independent", "y": "independent"}}
 }
],
"resolve": {"scale": {"color": "independent"}}
}
